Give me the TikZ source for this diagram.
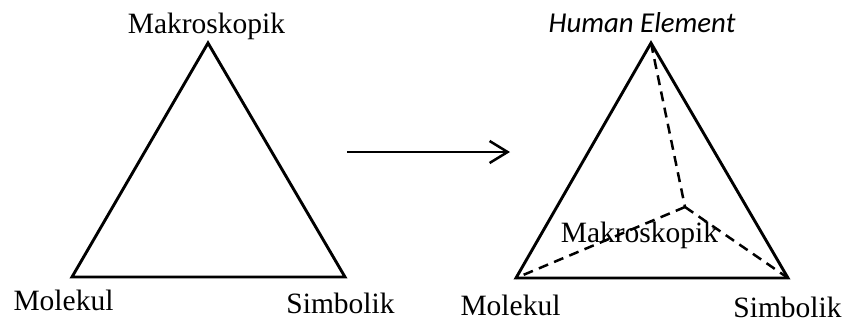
\documentclass[tikz,border=0pt]{standalone}
\usepackage{fontspec}
\setmainfont{Liberation Serif}
\newfontfamily\carlito{Carlito}
\usetikzlibrary{arrows.meta}
\begin{document}
\begin{tikzpicture}[x=1pt,y=-1pt,
  edge/.style={line width=2.9pt,line join=miter},
  hidden/.style={line width=2.5pt,dash pattern=on 10pt off 6.5pt},
  lbl/.style={anchor=base,inner sep=0pt,font=\fontsize{29.5}{34}\selectfont},
  hlbl/.style={anchor=base,inner sep=0pt,font=\carlito\itshape\fontsize{28.8}{34}\selectfont}]
\useasboundingbox (0,0) rectangle (847,327);
% left triangle
\coordinate (LA) at (208,43);
\coordinate (LB) at (72,277);
\coordinate (LC) at (345,277);
\draw[edge] (LA) -- (LB) -- (LC) -- cycle;
\node[lbl] (lmak) at (206.5,33) {Makroskopik};
\node[lbl] (lmol) at (63.5,310) {Molekul};
\node[lbl] (lsim) at (340.5,313) {Simbolik};
% arrow
\coordinate (ar1) at (347,152);
\coordinate (ar2) at (510,152);
\draw[line width=2.5pt,-{Straight Barb[length=18pt,width=22pt,line width=2.5pt]}] (ar1) -- (ar2);
% right tetrahedron
\coordinate (RA) at (651,43);
\coordinate (RB) at (516,278);
\coordinate (RC) at (788,278);
\coordinate (RD) at (685,207);
\draw[edge] (RA) -- (RB) -- (RC) -- cycle;
\draw[hidden] (RA) -- (RD);
\draw[hidden] (RD) -- (RB);
\draw[hidden] (RD) -- (RC);
\node[hlbl] (rhum) at (642,32) {Human Element};
\node[lbl] (rmak) at (639.5,242) {Makroskopik};
\node[lbl] (rmol) at (510.5,315) {Molekul};
\node[lbl] (rsim) at (787.5,317) {Simbolik};
\end{tikzpicture}
\end{document}
